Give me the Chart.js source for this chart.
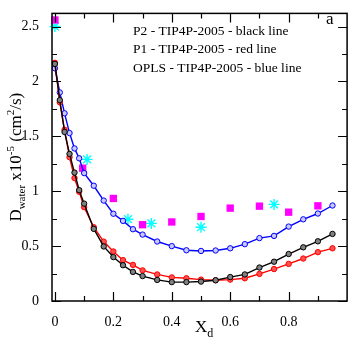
<!DOCTYPE html>
<html>
<head>
<meta charset="utf-8">
<script src="https://cdn.jsdelivr.net/npm/chart.js@4/dist/chart.umd.min.js"></script>
<style>
  html, body { margin: 0; padding: 0; background: #fff; }
  #wrap { width: 354px; height: 340px; }
</style>
</head>
<body>
<div id="wrap"><canvas id="chart"></canvas></div>
<script>
// mole fraction of dioxane (x axis)
const xSim = [0, 0.0167, 0.033, 0.05, 0.067, 0.083, 0.1, 0.133, 0.167, 0.2, 0.233, 0.267, 0.3,
              0.35, 0.4, 0.45, 0.5, 0.55, 0.6, 0.65, 0.7, 0.75, 0.8, 0.85, 0.9, 0.95];

// D_water x10^-5 cm^2/s
const p2Black = [2.16, 1.83, 1.54, 1.34, 1.17, 1.01, 0.887, 0.657, 0.497, 0.40, 0.326, 0.265, 0.227,
                 0.192, 0.172, 0.172, 0.177, 0.189, 0.218, 0.242, 0.305, 0.358, 0.428, 0.489, 0.544, 0.611];
const p1Red = [2.17, 1.81, 1.56, 1.31, 1.12, 0.995, 0.855, 0.672, 0.541, 0.451, 0.372, 0.329, 0.279,
               0.242, 0.215, 0.207, 0.195, 0.189, 0.195, 0.207, 0.247, 0.291, 0.338, 0.387, 0.445, 0.48];
const oplsBlue = [2.12, 1.90, 1.71, 1.53, 1.39, 1.30, 1.165, 1.05, 0.915, 0.795, 0.73, 0.654, 0.605,
                  0.542, 0.50, 0.462, 0.456, 0.46, 0.48, 0.518, 0.573, 0.593, 0.678, 0.744, 0.797, 0.87];

// experimental points
const xSquares = [0, 0.095, 0.2, 0.3, 0.4, 0.5, 0.6, 0.7, 0.8, 0.9];
const ySquares = [2.56, 1.21, 0.934, 0.695, 0.72, 0.77, 0.846, 0.864, 0.809, 0.867];
const xStars = [0, 0.11, 0.25, 0.33, 0.5, 0.75];
const yStars = [2.50, 1.29, 0.745, 0.707, 0.672, 0.88];

const xTicks = [0, 0.2, 0.4, 0.6, 0.8];
const yTicks = [0, 0.5, 1, 1.5, 2, 2.5];
const xMinor = [0.1, 0.3, 0.5, 0.7, 0.9];
const yMinor = [0.25, 0.75, 1.25, 1.75, 2.25];

const legendLines = ['P2 - TIP4P-2005 - black line', 'P1 - TIP4P-2005 - red line', 'OPLS - TIP4P-2005 - blue line'];

const SERIF = '"Liberation Serif", "DejaVu Serif", serif';

const pts = (xs, ys) => xs.map((x, i) => ({ x: x, y: ys[i] }));

function lineSet(data, color, fill) {
    return {
        data: data,
        borderColor: color,
        backgroundColor: color,
        borderWidth: 1.4,
        pointRadius: 2.7,
        pointBorderWidth: 1,
        pointBorderColor: color,
        pointBackgroundColor: fill,
        tension: 0,
        clip: false
    };
}

// draws a run of text pieces (with sub/superscripts) starting at 0,0 on the current transform
function richText(ctx, pieces, measureOnly) {
    let x = 0;
    pieces.forEach(p => {
        ctx.font = p.size + 'px ' + SERIF;
        if (!measureOnly) ctx.fillText(p.t, x, p.dy || 0);
        x += ctx.measureText(p.t).width;
    });
    return x;
}

const yTitle = [
    { t: 'D', size: 17 }, { t: 'water', size: 11, dy: 4 },
    { t: ' x10', size: 17 }, { t: '-5', size: 11, dy: -7 },
    { t: ' (cm', size: 17 }, { t: '2', size: 11, dy: -7 }, { t: '/s)', size: 17 }
];

const framePlugin = {
    id: 'frame',
    afterDraw(chart) {
        const { ctx, chartArea: a, scales: { x, y } } = chart;
        ctx.save();
        ctx.strokeStyle = '#000';
        ctx.lineWidth = 1.5;
        ctx.strokeRect(a.left, a.top, a.right - a.left, a.bottom - a.top);

        ctx.lineWidth = 1.2;
        ctx.beginPath();
        const xt = (v, len) => {
            const px = Math.round(x.getPixelForValue(v)) + 0.5;
            ctx.moveTo(px, a.bottom); ctx.lineTo(px, a.bottom - len);
            ctx.moveTo(px, a.top); ctx.lineTo(px, a.top + len);
        };
        const yt = (v, len) => {
            const py = Math.round(y.getPixelForValue(v)) + 0.5;
            ctx.moveTo(a.left, py); ctx.lineTo(a.left + len, py);
            ctx.moveTo(a.right, py); ctx.lineTo(a.right - len, py);
        };
        xTicks.forEach(v => xt(v, 9));
        xMinor.forEach(v => xt(v, 5));
        yTicks.forEach(v => yt(v, 9));
        yMinor.forEach(v => yt(v, 5));
        ctx.stroke();

        // legend text
        ctx.fillStyle = '#000';
        ctx.textBaseline = 'alphabetic';
        ctx.font = '13.5px ' + SERIF;
        legendLines.forEach((t, i) => ctx.fillText(t, 133, 35 + i * 18.3));
        ctx.font = '17px ' + SERIF;
        ctx.fillText('a', 326, 24);

        // x title
        ctx.save();
        ctx.translate(195, 332);
        richText(ctx, [{ t: 'X', size: 17 }, { t: 'd', size: 12, dy: 5 }]);
        ctx.restore();

        // y title, centred on the plot
        const len = richText(ctx, yTitle, true);
        const cy = (a.top + a.bottom) / 2;
        ctx.save();
        ctx.translate(21, cy + len / 2);
        ctx.rotate(-Math.PI / 2);
        richText(ctx, yTitle);
        ctx.restore();
        ctx.restore();
    }
};

new Chart(document.getElementById('chart'), {
    type: 'line',
    data: {
        datasets: [
            lineSet(pts(xSim, p2Black), '#000000', '#808080'),
            lineSet(pts(xSim, p1Red), '#ff0000', '#ff5050'),
            lineSet(pts(xSim, oplsBlue), '#0000ff', '#c8c8ff'),
            {
                data: pts(xSquares, ySquares),
                showLine: false,
                pointStyle: 'rect',
                pointRadius: 5.2,
                pointBorderWidth: 0,
                pointBackgroundColor: '#ff00ff',
                pointBorderColor: '#ff00ff',
                clip: false
            },
            {
                data: pts(xStars, yStars),
                showLine: false,
                pointStyle: 'star',
                pointRadius: 5.5,
                pointBorderWidth: 1.4,
                pointBorderColor: '#00ffff',
                pointBackgroundColor: '#00ffff',
                clip: false
            }
        ]
    },
    options: {
        responsive: true,
        maintainAspectRatio: false,
        animation: false,
        layout: { padding: { top: 1, right: 1, left: 0, bottom: 0 } },
        plugins: { legend: { display: false }, tooltip: { enabled: false } },
        scales: {
            x: {
                type: 'linear',
                min: -0.01,
                max: 1.0,
                grid: { display: false },
                border: { display: false },
                afterBuildTicks: s => { s.ticks = xTicks.map(v => ({ value: v })); },
                afterFit: s => { s.height = 39; },
                ticks: {
                    color: '#000',
                    padding: 5,
                    maxRotation: 0,
                    font: { family: SERIF, size: 14 },
                    callback: v => String(v)
                }
            },
            y: {
                min: 0,
                max: 2.62,
                grid: { display: false },
                border: { display: false },
                afterBuildTicks: s => { s.ticks = yTicks.map(v => ({ value: v })); },
                afterFit: s => { s.width = 52; },
                ticks: {
                    color: '#000',
                    padding: 5,
                    font: { family: SERIF, size: 14 },
                    callback: v => String(v)
                }
            }
        }
    },
    plugins: [framePlugin]
});
</script>
</body>
</html>
